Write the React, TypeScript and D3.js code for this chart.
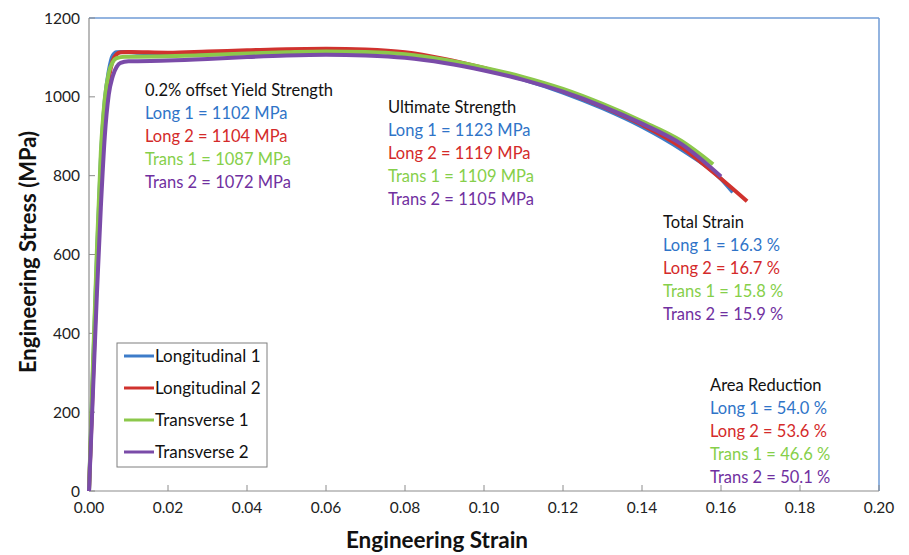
import React from "react";
import * as d3 from "d3";

const seriesNames = ["Longitudinal 1", "Longitudinal 2", "Transverse 1", "Transverse 2"];
const seriesColors = ["#3d7cc9", "#d0322e", "#8cc84b", "#7a4ba8"];
const textColors = ["#2f74c8", "#d42a2a", "#86cf4a", "#7030a0"];

const long1: [number, number][] = [
  [0, 0], [0.001, 300], [0.002, 590], [0.003, 840], [0.004, 990], [0.005, 1065], [0.006, 1105],
  [0.007, 1113], [0.009, 1114], [0.012, 1112], [0.02, 1110], [0.03, 1112], [0.04, 1115],
  [0.05, 1118], [0.06, 1120], [0.07, 1118], [0.08, 1110], [0.09, 1093], [0.1, 1070],
  [0.11, 1044], [0.12, 1011], [0.13, 971], [0.14, 924], [0.15, 866], [0.16, 792], [0.163, 758],
];
const long2: [number, number][] = [
  [0, 0], [0.001, 280], [0.002, 550], [0.003, 800], [0.004, 960], [0.005, 1045], [0.006, 1092],
  [0.007, 1108], [0.008, 1113], [0.01, 1114], [0.02, 1112], [0.03, 1115], [0.04, 1118],
  [0.05, 1121], [0.06, 1122], [0.07, 1120], [0.08, 1113], [0.09, 1096], [0.1, 1073],
  [0.11, 1047], [0.12, 1014], [0.13, 975], [0.14, 929], [0.15, 872], [0.16, 792], [0.1666, 735],
];
const trans1: [number, number][] = [
  [0, 0], [0.001, 320], [0.002, 610], [0.003, 860], [0.004, 995], [0.005, 1060], [0.006, 1088],
  [0.007, 1098], [0.009, 1102], [0.012, 1102], [0.02, 1103], [0.03, 1106], [0.04, 1110],
  [0.05, 1113], [0.06, 1115], [0.07, 1114], [0.08, 1108], [0.09, 1094], [0.1, 1074],
  [0.11, 1050], [0.12, 1020], [0.13, 982], [0.14, 938], [0.15, 888], [0.158, 829],
];
const trans2: [number, number][] = [
  [0, 0], [0.001, 250], [0.002, 500], [0.003, 720], [0.004, 900], [0.005, 1005], [0.006, 1052],
  [0.007, 1076], [0.008, 1086], [0.01, 1090], [0.02, 1092], [0.03, 1096], [0.04, 1101],
  [0.05, 1105], [0.06, 1107], [0.07, 1105], [0.08, 1099], [0.09, 1086], [0.1, 1067],
  [0.11, 1043], [0.12, 1013], [0.13, 976], [0.14, 932], [0.15, 880], [0.16, 798],
];
const seriesData = [long1, long2, trans1, trans2];

const xTicks = [0, 0.02, 0.04, 0.06, 0.08, 0.1, 0.12, 0.14, 0.16, 0.18, 0.2];
const yTicks = [0, 200, 400, 600, 800, 1000, 1200];

const labelShort = ["Long 1", "Long 2", "Trans 1", "Trans 2"];
const yieldValues = ["1102 MPa", "1104 MPa", "1087 MPa", "1072 MPa"];
const ultimateValues = ["1123 MPa", "1119 MPa", "1109 MPa", "1105 MPa"];
const strainValues = ["16.3 %", "16.7 %", "15.8 %", "15.9 %"];
const areaValues = ["54.0 %", "53.6 %", "46.6 %", "50.1 %"];

const blocks = [
  { title: "0.2% offset Yield Strength", values: yieldValues, x: 145, y: 90 },
  { title: "Ultimate Strength", values: ultimateValues, x: 388, y: 107 },
  { title: "Total Strain", values: strainValues, x: 663, y: 222 },
  { title: "Area Reduction", values: areaValues, x: 710, y: 385 },
];

const FONT = "Lato, 'Open Sans', sans-serif";

export default function App() {
  const W = 909, H = 555;
  const left = 89, right = 879, top = 18, bottom = 491;
  const x = d3.scaleLinear().domain([0, 0.2]).range([left, right]);
  const y = d3.scaleLinear().domain([0, 1200]).range([bottom, top]);
  const line = d3
    .line<[number, number]>()
    .x((d) => x(d[0]))
    .y((d) => y(d[1]))
    .curve(d3.curveMonotoneX);

  const legendY = [356, 388, 420, 452];

  return (
    <svg
      width={W}
      height={H}
      style={{ position: "absolute", left: 0, top: 0, background: "#fff" }}
      fontFamily={FONT}
    >
      <line x1={left} y1={top} x2={right} y2={top} stroke="#6f9bd6" strokeWidth={1.5} />
      <line x1={right} y1={top} x2={right} y2={bottom} stroke="#6f9bd6" strokeWidth={1.5} />
      <line x1={left} y1={top} x2={left} y2={bottom} stroke="#8c8c8c" strokeWidth={1.2} />
      <line x1={left} y1={bottom} x2={right} y2={bottom} stroke="#8c8c8c" strokeWidth={1.2} />

      {xTicks.map((t) => (
        <g key={"xt" + t}>
          <line x1={x(t)} x2={x(t)} y1={bottom} y2={bottom - 6} stroke="#8c8c8c" strokeWidth={1} />
          <text x={x(t)} y={513} textAnchor="middle" fontSize={15.5} fill="#222">
            {t.toFixed(2)}
          </text>
        </g>
      ))}
      {yTicks.map((t) => (
        <g key={"yt" + t}>
          <line x1={left} x2={left + 6} y1={y(t)} y2={y(t)} stroke="#8c8c8c" strokeWidth={1} />
          <text x={80} y={y(t) + 5.5} textAnchor="end" fontSize={15.5} fill="#222">
            {t}
          </text>
        </g>
      ))}

      <text x={437} y={548} textAnchor="middle" fontSize={22.5} fontWeight="bold" fill="#111">
        Engineering Strain
      </text>
      <text
        transform="translate(36,252) rotate(-90)"
        textAnchor="middle"
        fontSize={22}
        fontWeight="bold"
        fill="#111"
      >
        Engineering Stress (MPa)
      </text>

      {seriesData.map((d, i) => (
        <path
          key={seriesNames[i]}
          d={line(d) || ""}
          fill="none"
          stroke={seriesColors[i]}
          strokeWidth={4}
          strokeLinejoin="round"
        />
      ))}

      {blocks.map((b) => (
        <g key={b.title} fontSize={16.5}>
          <text x={b.x} y={b.y + 5.5} fill="#111">
            {b.title}
          </text>
          {b.values.map((v, i) => (
            <text key={i} x={b.x} y={b.y + 5.5 + 23 * (i + 1)} fill={textColors[i]}>
              {labelShort[i] + " = " + v}
            </text>
          ))}
        </g>
      ))}

      <rect x={117} y={343} width={150} height={124} fill="#fff" stroke="#7f7f7f" strokeWidth={1} />
      {seriesNames.map((n, i) => (
        <g key={"lg" + n}>
          <line x1={124} x2={154} y1={legendY[i]} y2={legendY[i]} stroke={seriesColors[i]} strokeWidth={3} />
          <text x={155} y={legendY[i] + 6} fontSize={17} fill="#111">
            {n}
          </text>
        </g>
      ))}
    </svg>
  );
}
